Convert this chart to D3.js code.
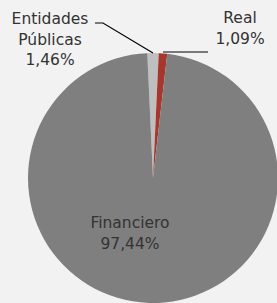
<!DOCTYPE html>
<html>
<head>
<meta charset="utf-8">
<script src="https://cdn.jsdelivr.net/npm/d3@7"></script>
<style>
  html, body { margin: 0; padding: 0; background: #f2f2f2; }
  svg { display: block; }
</style>
</head>
<body>
<div id="chart"></div>
<script>
// Data
const categories = ["Entidades Públicas", "Real", "Financiero"];
const shares = [1.46, 1.09, 97.44];
const labelLines = [["Entidades", "Públicas"], ["Real"], ["Financiero"]];
const sliceColors = ["#bfbfbf", "#a5372f", "#7f7f7f"];

const svgWidth = 277;
const svgHeight = 303;
const cx = 153, cy = 178, radius = 125;

const esFormat = d3.formatLocale({ decimal: ",", thousands: ".", grouping: [3], currency: ["", "€"] })
    .format(".2f");

const svg = d3.select("#chart")
    .append("svg")
    .attr("width", svgWidth)
    .attr("height", svgHeight);

svg.append("rect")
    .attr("width", svgWidth)
    .attr("height", svgHeight)
    .attr("fill", "#f2f2f2");

const g = svg.append("g")
    .attr("transform", `translate(${cx},${cy})`);

// first slice centred on 12 o'clock
const start = -Math.PI * shares[0] / d3.sum(shares);
const pie = d3.pie()
    .sort(null)
    .value(d => d)
    .startAngle(start)
    .endAngle(start + 2 * Math.PI);

const arc = d3.arc().innerRadius(0).outerRadius(radius);
const arcs = pie(shares);

g.selectAll("path.slice")
    .data(arcs)
    .enter()
    .append("path")
    .attr("class", "slice")
    .attr("d", arc)
    .attr("fill", (d, i) => sliceColors[i]);

// point on the rim at the middle of a slice
function rimPoint(d) {
    const a = (d.startAngle + d.endAngle) / 2;
    return [Math.sin(a) * radius, -Math.cos(a) * radius];
}

// label placement (relative to pie centre)
const labelPos = [
    { x: 50 - cx, y: 24 - cy, anchor: [[103 - cx, 23 - cy], [95 - cx, 23 - cy]] },
    { x: 240 - cx, y: 23 - cy, anchor: [[208 - cx, 52 - cy]] },
    { x: 130 - cx, y: 228 - cy, anchor: null }
];

const lineHeight = 20.5;

// leader lines
arcs.forEach((d, i) => {
    const lp = labelPos[i];
    if (!lp.anchor) return;
    const p = rimPoint(d);
    const pts = lp.anchor.slice(0, 1).concat([p]);
    if (i === 0) pts.unshift(lp.anchor[1]);
    else pts[1] = [p[0], lp.anchor[0][1]];
    g.append("path")
        .attr("d", d3.line()(pts))
        .attr("fill", "none")
        .attr("stroke", "#000")
        .attr("stroke-width", 1.2);
});

// labels
arcs.forEach((d, i) => {
    const lp = labelPos[i];
    const lines = labelLines[i].concat([esFormat(shares[i]) + "%"]);
    const t = g.append("text")
        .attr("text-anchor", "middle")
        .attr("font-family", "'DejaVu Sans', sans-serif")
        .attr("font-size", "15.5px")
        .attr("fill", "#333333");
    lines.forEach((s, j) => {
        t.append("tspan")
            .attr("x", lp.x)
            .attr("y", lp.y + j * lineHeight)
            .text(s);
    });
});
</script>
</body>
</html>
